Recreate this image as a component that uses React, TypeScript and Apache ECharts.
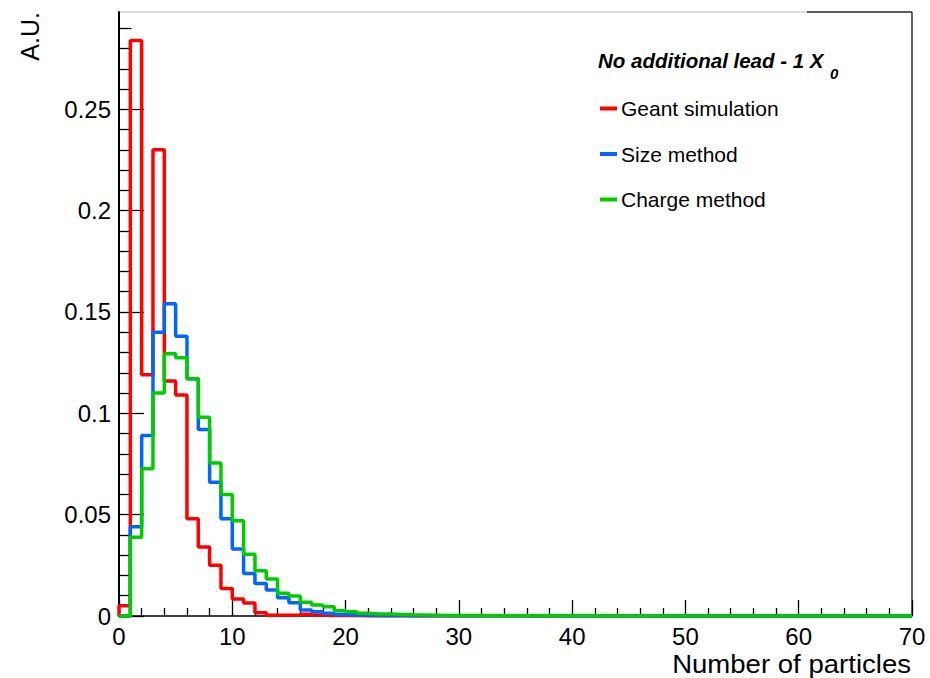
import React, { useEffect, useRef } from "react";
import * as echarts from "echarts";

// Histogram bins of width 1 starting at 0 (bin lower edges = index)
const X_MAX = 70;
const geantSimulation = [
  0.005, 0.284, 0.119, 0.23, 0.116, 0.109, 0.048, 0.034, 0.025, 0.0136,
  0.0084, 0.0064, 0.0016, 0.0004, 0.0004, 0.0005, 0.0009, 0.0005, 0.0003, 0.0002,
  0.0002, 0.0001, 0,
];
const sizeMethod = [
  0, 0.044, 0.089, 0.14, 0.154, 0.138, 0.117, 0.092, 0.066, 0.048,
  0.033, 0.021, 0.016, 0.0128, 0.009, 0.0065, 0.003, 0.0021, 0.0013, 0.0008,
  0.0005, 0.0004, 0.0003, 0.0002, 0.0002, 0.0001, 0,
];
const chargeMethod = [
  0, 0.0388, 0.0727, 0.11, 0.1294, 0.1274, 0.117, 0.098, 0.0755, 0.06,
  0.047, 0.0305, 0.0223, 0.0183, 0.0112, 0.0099, 0.0068, 0.0054, 0.0046, 0.0026,
  0.0021, 0.0013, 0.001, 0.001, 0.0008, 0.0006, 0.0005, 0.0004, 0.0003, 0.0003,
  0.0002, 0.0002, 0.0001, 0,
];
const yMajorTicks = [0, 0.05, 0.1, 0.15, 0.2, 0.25];
const yMinorTicks = [
  0.01, 0.02, 0.03, 0.04, 0.06, 0.07, 0.08, 0.09, 0.11, 0.12, 0.13, 0.14,
  0.16, 0.17, 0.18, 0.19, 0.21, 0.22, 0.23, 0.24, 0.26, 0.27, 0.28, 0.29,
];
const Y_MAX = 0.298;
const seriesNames = ["Geant simulation", "Size method", "Charge method"];
const seriesColors = ["#ff0000", "#0066ff", "#00cc00"];

const FONT = "Liberation Sans, Arial, Helvetica, sans-serif";

function toSteps(vals: number[]): number[][] {
  const pts = vals.map((v, i) => [i, v]);
  pts.unshift([0, 0]);
  pts.push([X_MAX, vals[vals.length - 1]]);
  return pts;
}

export default function App() {
  const ref = useRef<HTMLDivElement>(null);
  useEffect(() => {
    if (!ref.current) return;
    const chart = echarts.init(ref.current, undefined, { renderer: "svg" });
    const L = 119, T = 12, R = 912, B = 616;
    const datasets = [geantSimulation, sizeMethod, chargeMethod];
    chart.setOption({
      animation: false,
      backgroundColor: "#fff",
      textStyle: { fontFamily: FONT },
      grid: { left: L, top: T, width: R - L, height: B - T, show: false },
      xAxis: {
        type: "value",
        min: 0,
        max: X_MAX,
        interval: 10,
        axisLine: { show: true, lineStyle: { color: "#000", width: 1.5 } },
        axisTick: { show: true, inside: true, length: 16, lineStyle: { color: "#000", width: 1.3 } },
        minorTick: { show: true, splitNumber: 5, length: 8, lineStyle: { color: "#000", width: 1.3 } },
        axisLabel: { show: true, fontSize: 24, color: "#000", margin: 8, fontFamily: FONT },
        splitLine: { show: false },
        minorSplitLine: { show: false },
      },
      yAxis: [
        {
          type: "value",
          min: 0,
          max: Y_MAX,
          position: "left",
          axisLine: { show: true, onZero: false, lineStyle: { color: "#000", width: 2 } },
          axisTick: { show: true, inside: true, length: 25, customValues: yMajorTicks, lineStyle: { color: "#000", width: 1.3 } },
          axisLabel: {
            show: true,
            customValues: yMajorTicks,
            fontSize: 24,
            color: "#000",
            margin: 8,
            fontFamily: FONT,
            formatter: (v: number) => String(+v.toFixed(2)),
          },
          splitLine: { show: false },
        },
        {
          type: "value",
          min: 0,
          max: Y_MAX,
          position: "left",
          offset: 0,
          axisLine: { show: false },
          axisTick: { show: true, inside: true, length: 12.5, customValues: yMinorTicks, lineStyle: { color: "#000", width: 1.3 } },
          axisLabel: { show: false },
          splitLine: { show: false },
        },
      ],
      legend: {
        show: true,
        orient: "vertical",
        left: 600,
        top: 98,
        padding: 0,
        itemGap: 24.5,
        itemWidth: 17,
        itemHeight: 4,
        icon: "rect",
        data: seriesNames,
        textStyle: { fontSize: 21, color: "#000", fontFamily: FONT, padding: [0, 0, 0, -1] },
      },
      series: datasets.map((d, i) => ({
        name: seriesNames[i],
        type: "line",
        step: "end",
        data: toSteps(d),
        showSymbol: false,
        symbol: "none",
        clip: false,
        color: seriesColors[i],
        lineStyle: { color: seriesColors[i], width: 3.5 },
        z: 2 + i,
      })),
      graphic: [
        { type: "line", silent: true, shape: { x1: L, y1: T, x2: 807, y2: T }, style: { stroke: "#bbbbbb", lineWidth: 1 } },
        { type: "line", silent: true, shape: { x1: 807, y1: T, x2: R, y2: T }, style: { stroke: "#222", lineWidth: 1.5 } },
        { type: "line", silent: true, shape: { x1: R, y1: T, x2: R, y2: B }, style: { stroke: "#333", lineWidth: 1.5 } },
        {
          type: "text",
          x: 598,
          y: 60,
          style: {
            text: "No additional lead - 1 X",
            font: `italic bold 20.5px ${FONT}`,
            fill: "#000",
            verticalAlign: "middle",
          },
        },
        {
          type: "text",
          x: 830,
          y: 73,
          style: {
            text: "0",
            font: `italic bold 15px ${FONT}`,
            fill: "#000",
            verticalAlign: "middle",
          },
        },
        {
          type: "text",
          x: 911,
          y: 651,
          scaleX: 1.06,
          style: {
            text: "Number of particles",
            font: `26px ${FONT}`,
            fill: "#000",
            align: "right",
            verticalAlign: "top",
          },
        },
        {
          type: "text",
          x: 30,
          y: 12,
          rotation: Math.PI / 2,
          style: {
            text: "A.U.",
            font: `25px ${FONT}`,
            fill: "#000",
            align: "right",
            verticalAlign: "middle",
          },
        },
      ],
    });
    return () => chart.dispose();
  }, []);
  return <div ref={ref} style={{ width: 930, height: 678, position: "absolute", left: 0, top: 0 }} />;
}
